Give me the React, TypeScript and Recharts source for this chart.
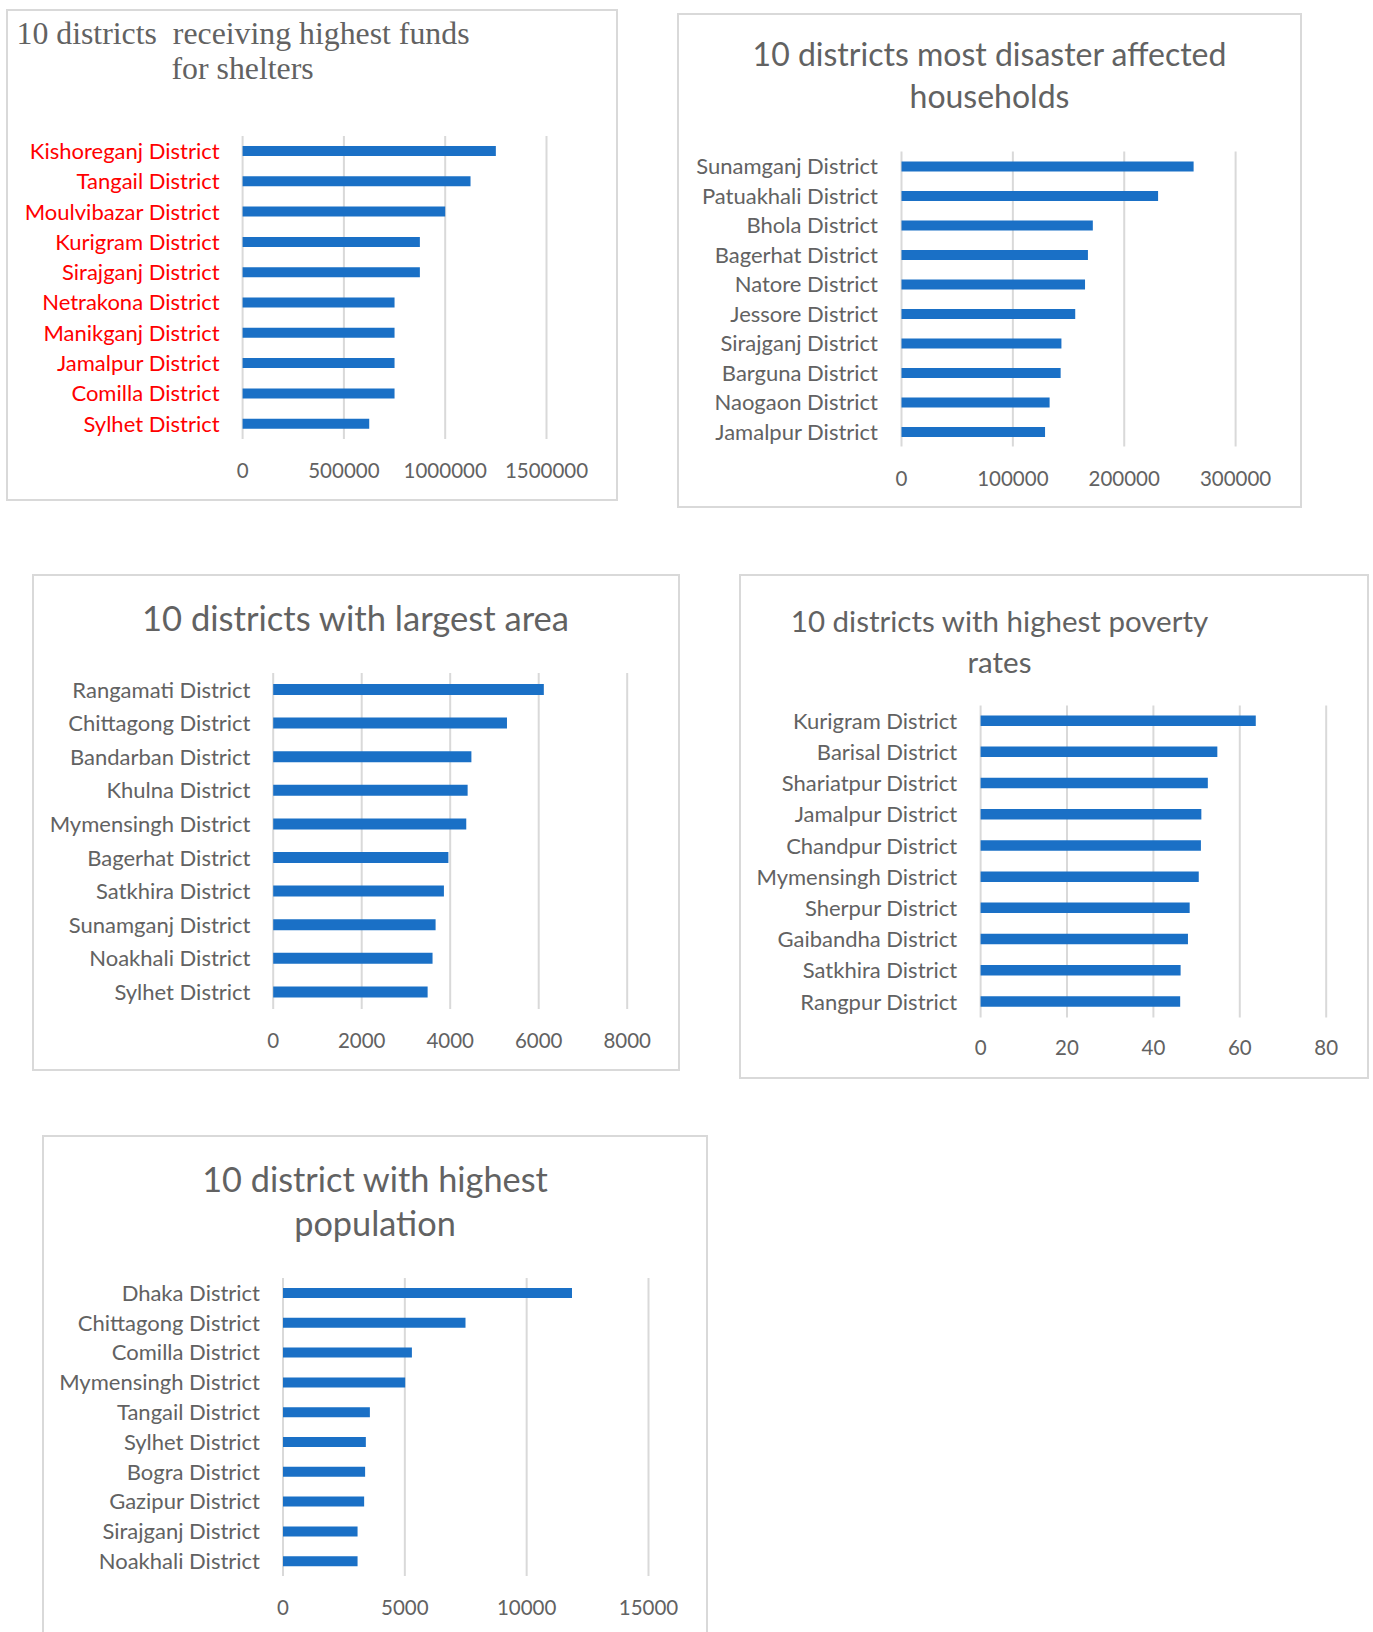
import React from 'react';
import { BarChart, Bar, XAxis, YAxis, CartesianGrid } from 'recharts';

// ---------- data ----------
const fundDistricts = [
  'Kishoreganj District', 'Tangail District', 'Moulvibazar District', 'Kurigram District',
  'Sirajganj District', 'Netrakona District', 'Manikganj District', 'Jamalpur District',
  'Comilla District', 'Sylhet District',
];
const fundValues = [1250000, 1125000, 1000000, 875000, 875000, 750000, 750000, 750000, 750000, 625000];
const fundTicks = [0, 500000, 1000000, 1500000];

const disasterDistricts = [
  'Sunamganj District', 'Patuakhali District', 'Bhola District', 'Bagerhat District',
  'Natore District', 'Jessore District', 'Sirajganj District', 'Barguna District',
  'Naogaon District', 'Jamalpur District',
];
const disasterValues = [262300, 230400, 171800, 167400, 164800, 156000, 143600, 142900, 133000, 128900];
const disasterTicks = [0, 100000, 200000, 300000];

const areaDistricts = [
  'Rangamati District', 'Chittagong District', 'Bandarban District', 'Khulna District',
  'Mymensingh District', 'Bagerhat District', 'Satkhira District', 'Sunamganj District',
  'Noakhali District', 'Sylhet District',
];
const areaValues = [6116, 5283, 4479, 4394, 4363, 3959, 3858, 3670, 3601, 3490];
const areaTicks = [0, 2000, 4000, 6000, 8000];

const povertyDistricts = [
  'Kurigram District', 'Barisal District', 'Shariatpur District', 'Jamalpur District',
  'Chandpur District', 'Mymensingh District', 'Sherpur District', 'Gaibandha District',
  'Satkhira District', 'Rangpur District',
];
const povertyValues = [63.7, 54.8, 52.6, 51.1, 51.0, 50.5, 48.4, 48.0, 46.3, 46.2];
const povertyTicks = [0, 20, 40, 60, 80];

const populationDistricts = [
  'Dhaka District', 'Chittagong District', 'Comilla District', 'Mymensingh District',
  'Tangail District', 'Sylhet District', 'Bogra District', 'Gazipur District',
  'Sirajganj District', 'Noakhali District',
];
const populationValues = [11860, 7490, 5290, 5015, 3565, 3400, 3370, 3330, 3060, 3060];
const populationTicks = [0, 5000, 10000, 15000];

// ---------- styling ----------
const BAR = '#1a70c6';
const GRID = '#d9d9d9';
const TEXT = '#626262';
const SANS = 'Lato, Carlito, Calibri, sans-serif';

type Box = { l: number; t: number; r: number; b: number };

function Panel(props: {
  names: string[];
  values: number[];
  ticks: number[];
  frame: Box;
  plot: Box;
  barSize: number;
  labelColor: string;
  yGap: number;
  xGap: number;
}) {
  const { names, values, ticks, frame, plot, barSize, labelColor, yGap, xGap } = props;
  const data = names.map((n, i) => ({ name: n, value: values[i] }));
  const W = frame.r - frame.l;
  const H = frame.b - frame.t;
  return (
    <>
      <div
        style={{
          position: 'absolute',
          left: frame.l,
          top: frame.t,
          width: W,
          height: H,
          boxSizing: 'border-box',
          border: `2px solid ${GRID}`,
          background: '#fff',
        }}
      />
      <div style={{ position: 'absolute', left: frame.l, top: frame.t }}>
        <BarChart
          width={W}
          height={H}
          data={data}
          layout="vertical"
          margin={{ top: plot.t - frame.t, right: frame.r - plot.r, left: 0, bottom: 0 }}
          barCategoryGap={0}
        >
          <CartesianGrid horizontal={false} vertical={true} stroke={GRID} strokeWidth={2} />
          <XAxis
            type="number"
            domain={[0, ticks[ticks.length - 1]]}
            ticks={ticks}
            interval={0}
            axisLine={false}
            tickLine={false}
            tickSize={0}
            tickMargin={xGap}
            height={frame.b - plot.b}
            tick={{ fill: TEXT, fontSize: 20.5, fontFamily: SANS }}
          />
          <YAxis
            type="category"
            dataKey="name"
            width={plot.l - frame.l}
            interval={0}
            axisLine={false}
            tickLine={false}
            tickSize={0}
            tickMargin={yGap}
            tick={{ fill: labelColor, fontSize: 22, fontFamily: SANS }}
          />
          <Bar dataKey="value" fill={BAR} barSize={barSize} isAnimationActive={false} />
        </BarChart>
      </div>
    </>
  );
}

export default function App() {
  return (
    <div
      style={{
        position: 'absolute',
        left: 0,
        top: 0,
        width: 1373,
        height: 1632,
        overflow: 'hidden',
        background: '#fff',
      }}
    >
      <Panel
        names={fundDistricts}
        values={fundValues}
        ticks={fundTicks}
        frame={{ l: 6, t: 9, r: 618, b: 501 }}
        plot={{ l: 242.6, t: 136, r: 546.5, b: 439 }}
        barSize={10}
        labelColor="#ff0000"
        yGap={23}
        xGap={24}
      />
      <Panel
        names={disasterDistricts}
        values={disasterValues}
        ticks={disasterTicks}
        frame={{ l: 677, t: 12.5, r: 1301.5, b: 508 }}
        plot={{ l: 901.5, t: 151, r: 1235.6, b: 446 }}
        barSize={10}
        labelColor={TEXT}
        yGap={23.5}
        xGap={25}
      />
      <Panel
        names={areaDistricts}
        values={areaValues}
        ticks={areaTicks}
        frame={{ l: 31.5, t: 574, r: 680, b: 1071 }}
        plot={{ l: 272.7, t: 673, r: 626.7, b: 1009 }}
        barSize={11}
        labelColor={TEXT}
        yGap={22.7}
        xGap={24}
      />
      <Panel
        names={povertyDistricts}
        values={povertyValues}
        ticks={povertyTicks}
        frame={{ l: 739, t: 573.6, r: 1369, b: 1079.5 }}
        plot={{ l: 980.6, t: 705, r: 1326.2, b: 1017 }}
        barSize={10.5}
        labelColor={TEXT}
        yGap={23.4}
        xGap={23}
      />
      <Panel
        names={populationDistricts}
        values={populationValues}
        ticks={populationTicks}
        frame={{ l: 42, t: 1135, r: 708, b: 1645 }}
        plot={{ l: 283, t: 1278, r: 648.5, b: 1576 }}
        barSize={10}
        labelColor={TEXT}
        yGap={23}
        xGap={24}
      />
      <svg
        width={1373}
        height={1632}
        style={{ position: 'absolute', left: 0, top: 0, pointerEvents: 'none' }}
      >
        <g fill={TEXT}>
          <text x={16.5} y={44} fontFamily="'Liberation Serif', 'Times New Roman', serif" fontSize={31.8}>
            {'10 districts\u00a0\u00a0receiving highest funds'}
          </text>
          <text x={171.5} y={79} fontFamily="'Liberation Serif', 'Times New Roman', serif" fontSize={31.8}>
            for shelters
          </text>
          <g fontFamily={SANS} textAnchor="middle">
            <text x={989.5} y={66} fontSize={32}>10 districts most disaster affected</text>
            <text x={989.5} y={108} fontSize={32}>households</text>
            <text x={355.5} y={631} fontSize={34.6}>10 districts with largest area</text>
            <text x={999.5} y={632} fontSize={29.5}>10 districts with highest poverty</text>
            <text x={999.5} y={672.5} fontSize={29.5}>rates</text>
            <text x={375} y={1192} fontSize={34.3}>10 district with highest</text>
            <text x={375} y={1236} fontSize={34.3}>population</text>
          </g>
        </g>
      </svg>
    </div>
  );
}
